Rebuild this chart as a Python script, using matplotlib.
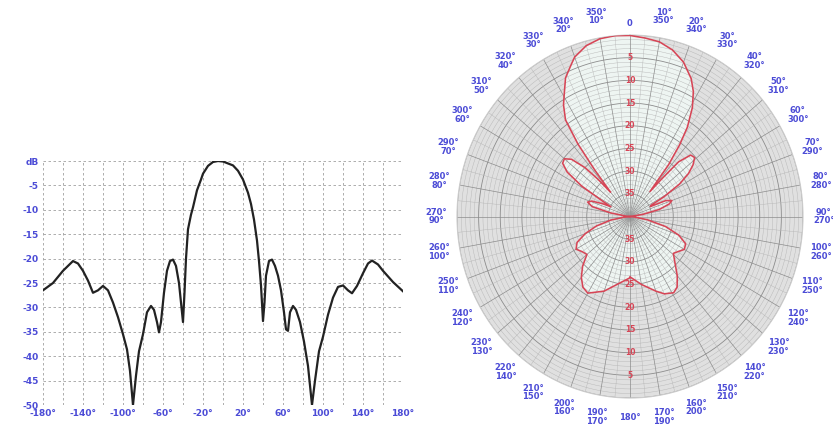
import matplotlib.pyplot as plt
import numpy as np

# radiation pattern (degrees, dB)
angle_deg = [-180, -170, -160, -150, -145, -140, -135, -130, -125, -120, -115, -110,
             -105, -100, -96, -93, -90, -87, -84, -80, -76, -72, -69, -66, -64, -62,
             -59, -56, -53, -50, -47, -44, -42, -40, -38.5, -37, -35, -32, -30, -26,
             -22, -20, -15, -10, -5, 0, 5, 10, 15, 20, 25, 28, 31, 34, 36, 38, 40,
             41.5, 43, 46, 49, 52, 55, 58, 61, 63, 65, 67, 70, 73, 77, 81, 85, 89,
             92, 96, 100, 105, 110, 115, 120, 125, 129, 134, 140, 145, 149, 155, 160,
             170, 180]
gain_db = [-26.5, -25, -22.5, -20.5, -21, -22.5, -24.5, -27, -26.5, -25.6, -26.5, -29,
           -32, -35.5, -38.6, -43, -50, -44, -39, -35.5, -31, -29.7, -30.5, -33, -35.1, -33,
           -27, -22.5, -20.5, -20.2, -21.5, -25, -29, -33, -27, -20, -14, -11, -9.5, -6,
           -3.8, -2.6, -1, -0.2, 0, -0.1, -0.5, -0.9, -2, -3.8, -6.5, -8.8, -12, -16.3, -20.5, -25.5, -32.8,
           -29, -23.5, -20.5, -20.2, -21.5, -23.5, -26.5, -31, -34.5, -34.8, -31, -29.7, -30.5, -33, -37, -42, -50,
           -45, -39, -36, -31.5, -28, -25.8, -25.5, -26.5, -27.1, -25.6, -23, -21, -20.4, -21.2, -22.5,
           -24.8, -26.7]

x_ticks = [-180, -140, -100, -60, -20, 20, 60, 100, 140, 180]
x_tick_labels = ['-180°', '-140°', '-100°', '-60°', '-20°', '20°', '60°', '100°', '140°', '180°']
y_ticks = [0, -5, -10, -15, -20, -25, -30, -35, -40, -45, -50]
y_tick_labels = ['dB', '-5', '-10', '-15', '-20', '-25', '-30', '-35', '-40', '-45', '-50']

ring_db = [-5, -10, -15, -20, -25, -30, -35]
ring_labels = ['5', '10', '15', '20', '25', '30', '35']
compass_deg = list(range(0, 360, 10))

blue = '#4b4bd6'
red = '#d64556'

fig = plt.figure(figsize=(8.33, 4.34), dpi=100)

# rectangular plot
ax = fig.add_axes([0.0516, 0.0668, 0.4322, 0.5622])
ax.plot(angle_deg, gain_db, color='#222222', lw=1.6, zorder=3)
ax.set_xlim(-180, 180)
ax.set_ylim(-50, 0)
ax.set_xticks(x_ticks, x_tick_labels)
ax.set_yticks(y_ticks, y_tick_labels)
ax.set_xticks(np.arange(-180, 181, 20), minor=True)
ax.grid(which='both', color='#a0a0a0', ls=(0, (3, 3)), lw=0.6)
for s in ax.spines.values():
    s.set_visible(False)
ax.tick_params(which='both', length=0, colors=blue, labelsize=6.5, pad=3)
for lbl in ax.get_xticklabels() + ax.get_yticklabels():
    lbl.set_fontweight('bold')

# polar plot
pax = fig.add_axes([0.5486, 0.0829, 0.4154, 0.8364], projection='polar')
pax.set_aspect('auto')
pax.set_theta_zero_location('N')
pax.set_theta_direction(-1)
pax.set_ylim(-40, 0)
pax.set_facecolor('#e0e0e0')
pax.set_xticks([])
pax.set_yticks([])
pax.grid(False)
pax.spines['polar'].set_color('#cccccc')

ring_theta = np.linspace(0, 2 * np.pi, 361)
for r in range(-40, 1):
    major = r % 5 == 0
    pax.plot(ring_theta, np.full_like(ring_theta, r), color='#8c8c8c' if major else '#b4b4b4',
             lw=0.6 if major else 0.3, zorder=2)
for a in range(0, 360, 5):
    major = a % 10 == 0
    pax.plot([np.radians(a)] * 2, [-40, 0], color='#8c8c8c' if major else '#b4b4b4',
             lw=0.5 if major else 0.3, zorder=2)

theta = np.radians(angle_deg)
r_clip = np.clip(gain_db, -40, 0)
pax.fill(theta, r_clip, color='#eef5f2', zorder=1)
pax.plot(theta, r_clip, color=red, lw=1.15, zorder=4)

for r, lbl in zip(ring_db, ring_labels):
    for t in (0, np.pi):
        pax.text(t, r, lbl, color=red, fontsize=5.5, fontweight='bold',
                 ha='center', va='center', zorder=5)

for phi in compass_deg:
    if phi == 0:
        txt, rr = '0', 2.5
    elif phi == 180:
        txt, rr = '180°', 4.2
    else:
        txt, rr = f'{phi}°\n{360 - phi}°', 4.8
    pax.text(np.radians(phi), rr, txt, color=blue, fontsize=6, fontweight='bold',
             ha='center', va='center', linespacing=0.95, clip_on=False)

plt.savefig('out.png', dpi=100)
